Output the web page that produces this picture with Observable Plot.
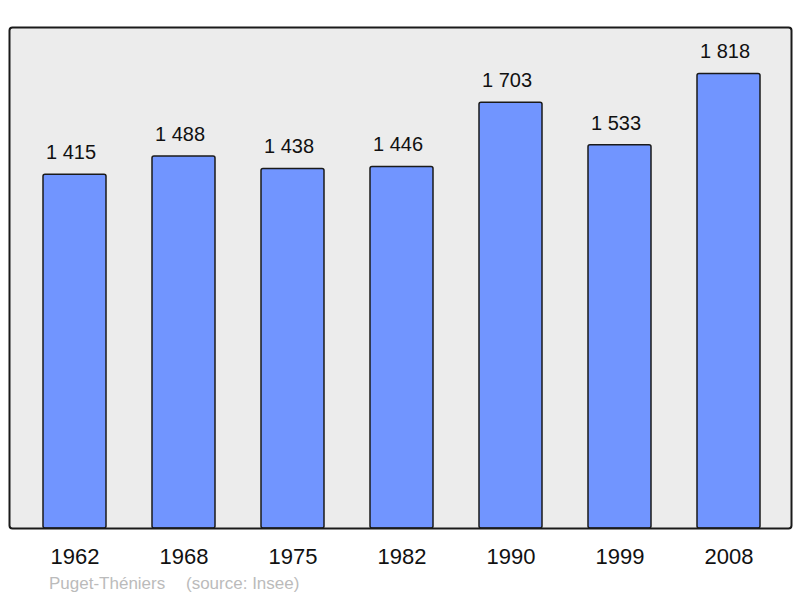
<!DOCTYPE html>
<html>
<head>
<meta charset="utf-8">
<script src="https://cdn.jsdelivr.net/npm/d3@7"></script>
<script src="https://cdn.jsdelivr.net/npm/@observablehq/plot@0.6"></script>
<style>
  body { margin: 0; background: #fff; font-family: "Liberation Sans", Arial, sans-serif; }
  #wrap { position: relative; width: 800px; height: 598px; }
  .cap { position: absolute; top: 574px; font-size: 17px; color: #bbbbbb; white-space: pre; }
</style>
</head>
<body>
<div id="wrap">
  <div id="chart"></div>
  <div class="cap" style="left:49px">Puget-Théniers</div>
  <div class="cap" style="left:186px">(source: Insee)</div>
</div>
<script>
const years = ["1962", "1968", "1975", "1982", "1990", "1999", "2008"];
const population = [1415, 1488, 1438, 1446, 1703, 1533, 1818];
const valueLabels = ["1 415", "1 488", "1 438", "1 446", "1 703", "1 533", "1 818"];

const data = years.map((y, i) => ({year: y, pop: population[i], label: valueLabels[i]}));

const chart = Plot.plot({
  width: 800,
  height: 574,
  marginTop: 28,
  marginBottom: 46,
  marginLeft: 9,
  marginRight: 9,
  style: {fontFamily: "Liberation Sans, Arial, sans-serif", background: "transparent", overflow: "visible"},
  x: {domain: years, range: [18.25, 784.75], paddingInner: 0.42, paddingOuter: 0.21, label: null},
  y: {domain: [0, 2000], axis: null},
  marks: [
    Plot.frame({fill: "#ececec", stroke: "none", rx: 3, insetTop: -1}),
    Plot.barY(data, {x: "year", y: "pop", fill: "#7195ff", stroke: "#1a1a1a", strokeWidth: 1.5, rx: 2}),
    Plot.frame({stroke: "#1a1a1a", strokeWidth: 2, rx: 3, insetTop: -1}),
    Plot.text(data, {x: "year", y: "pop", text: "label", dy: -22, dx: -4, fontSize: 20, fill: "#111"}),
    Plot.axisX({tickSize: 0, tickPadding: 20, fontSize: 22, color: "#111", label: null})
  ]
});
document.getElementById("chart").appendChild(chart);
</script>
</body>
</html>
